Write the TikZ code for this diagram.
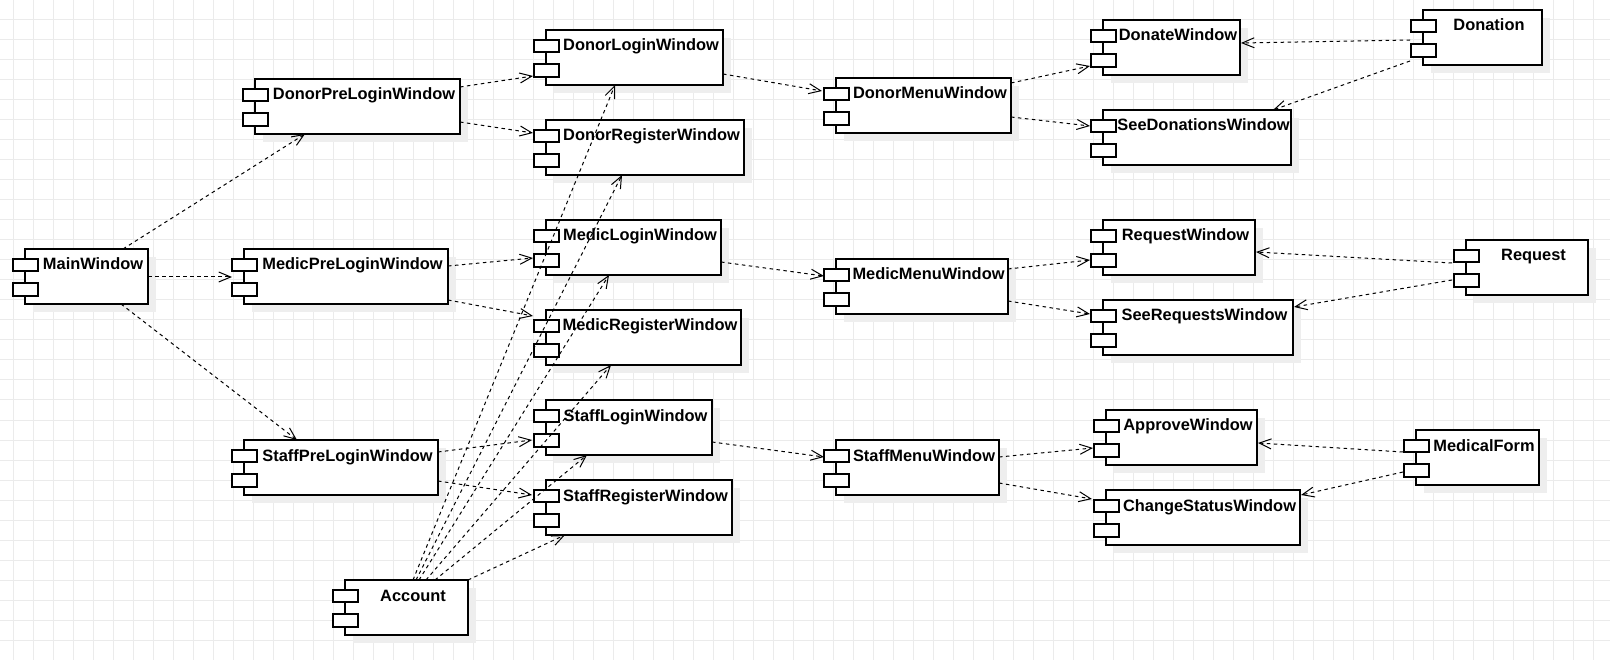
\documentclass[tikz,border=0pt]{standalone}
\usepackage{fontspec}
\setmainfont{Liberation Sans}
\usetikzlibrary{arrows.meta,calc}
\definecolor{gridc}{HTML}{EBEBEB}
\definecolor{shadowc}{HTML}{EEEEEE}
\tikzset{
  body/.style={draw=black, line width=1.2pt, fill=white, minimum height=55pt,
    inner sep=0pt, outer sep=0pt, anchor=north west},
  port/.style={draw=black, line width=1.2pt, fill=white},
  lbl/.style={font=\fontsize{16.4}{19}\selectfont\bfseries, inner sep=0pt, anchor=base},
  dep/.style={draw=black, line width=1pt, dash pattern=on 3.5pt off 3.5pt,
    -{Straight Barb[length=12pt,width=10pt]}},
}
% UML component: name, left, top, width, label
\newcommand\comp[5]{%
  \fill[shadowc] (#2+8,#3+8) rectangle ++(#4,55);
  \node[body, minimum width=#4pt] (#1) at (#2,#3) {};
  \draw[port] ($(#1.north west)+(-12,10)$) rectangle ++(25,12);
  \draw[port] ($(#1.north west)+(-12,34)$) rectangle ++(25,13);
  \node[lbl] (#1-t) at ($(#1.north west)!0.5!(#1.north east)+(6.5,21)$) {#5};
}
\begin{document}
\begin{tikzpicture}[x=1pt,y=-1pt]
\useasboundingbox (0,0) rectangle (1610,660);
\fill[white] (0,0) rectangle (1610,660);
% background grid
\foreach \i in {0,...,80} \draw[gridc, line width=1pt] (13.33+20*\i,0) -- (13.33+20*\i,660);
\foreach \j in {0,...,33} \draw[gridc, line width=1pt] (0,20*\j) -- (1610,20*\j);

% components
\comp{main}{25}{249}{123}{MainWindow}
\comp{donorpre}{255}{79}{205}{DonorPreLoginWindow}
\comp{medicpre}{244}{249}{204}{MedicPreLoginWindow}
\comp{staffpre}{244}{440}{194}{StaffPreLoginWindow}
\comp{account}{345}{580}{123}{Account}
\comp{donorlogin}{546}{30}{177}{DonorLoginWindow}
\comp{donorreg}{546}{120}{198}{DonorRegisterWindow}
\comp{mediclogin}{546}{220}{175}{MedicLoginWindow}
\comp{medicreg}{546}{310}{195}{MedicRegisterWindow}
\comp{stafflogin}{546}{400}{166}{StaffLoginWindow}
\comp{staffreg}{546}{480}{186}{StaffRegisterWindow}
\comp{donormenu}{836}{78}{175}{DonorMenuWindow}
\comp{medicmenu}{836}{259}{172}{MedicMenuWindow}
\comp{staffmenu}{836}{440}{163}{StaffMenuWindow}
\comp{donate}{1103}{20}{137}{DonateWindow}
\comp{seedon}{1103}{110}{188}{SeeDonationsWindow}
\comp{donation}{1423}{10}{119}{Donation}
\comp{reqwin}{1103}{220}{152}{RequestWindow}
\comp{seereq}{1103}{300}{190}{SeeRequestsWindow}
\comp{request}{1466}{240}{122}{Request}
\comp{approve}{1106}{410}{151}{ApproveWindow}
\comp{change}{1106}{490}{194}{ChangeStatusWindow}
\comp{medform}{1416}{430}{123}{MedicalForm}

% dependencies
\draw[dep] ($(main.north west)+(98,0)$) -- ($(donorpre.north west)+(50,55)$);
\draw[dep] ($(main.north west)+(123,28)$) -- ($(medicpre.north west)+(-12,28)$);
\draw[dep] ($(main.north west)+(96,55)$) -- ($(staffpre.north west)+(53,0)$);

\draw[dep] ($(donorpre.north west)+(205,8)$) -- ($(donorlogin.north west)+(-13,46)$);
\draw[dep] ($(donorpre.north west)+(205,43)$) -- ($(donorreg.north west)+(-13,13)$);
\draw[dep] ($(medicpre.north west)+(204,17)$) -- ($(mediclogin.north west)+(-13,38)$);
\draw[dep] ($(medicpre.north west)+(204,51)$) -- ($(medicreg.north west)+(-13,6)$);
\draw[dep] ($(staffpre.north west)+(194,12)$) -- ($(stafflogin.north west)+(-14,40)$);
\draw[dep] ($(staffpre.north west)+(194,41)$) -- ($(staffreg.north west)+(-14,15)$);

\draw[dep] ($(donorlogin.north west)+(177,44)$) -- ($(donormenu.north west)+(-14,13)$);
\draw[dep] ($(mediclogin.north west)+(175,42)$) -- ($(medicmenu.north west)+(-12,17)$);
\draw[dep] ($(stafflogin.north west)+(166,42)$) -- ($(staffmenu.north west)+(-12,17)$);

\draw[dep] ($(donormenu.north west)+(175,5)$) -- ($(donate.north west)+(-13,46)$);
\draw[dep] ($(donormenu.north west)+(175,39)$) -- ($(seedon.north west)+(-13,16)$);
\draw[dep] ($(medicmenu.north west)+(172,10)$) -- ($(reqwin.north west)+(-13,40)$);
\draw[dep] ($(medicmenu.north west)+(172,42)$) -- ($(seereq.north west)+(-13,14)$);
\draw[dep] ($(staffmenu.north west)+(163,17)$) -- ($(approve.north west)+(-13,38)$);
\draw[dep] ($(staffmenu.north west)+(163,43)$) -- ($(change.north west)+(-14,9)$);

\draw[dep] ($(donation.north west)+(-13,30)$) -- ($(donate.north west)+(138,23)$);
\draw[dep] ($(donation.north west)+(-13,51)$) -- ($(seedon.north west)+(170,0)$);
\draw[dep] ($(request.north west)+(-14,23)$) -- ($(reqwin.north west)+(153,32)$);
\draw[dep] ($(request.north west)+(-14,40)$) -- ($(seereq.north west)+(191,7)$);
\draw[dep] ($(medform.north west)+(-13,22)$) -- ($(approve.north west)+(152,33)$);
\draw[dep] ($(medform.north west)+(-13,42)$) -- ($(change.north west)+(195,5)$);

\draw[dep] ($(account.north west)+(68,0)$) -- ($(donorlogin.north west)+(69,55)$);
\draw[dep] ($(account.north west)+(71,0)$) -- ($(donorreg.north west)+(76,55)$);
\draw[dep] ($(account.north west)+(74,0)$) -- ($(mediclogin.north west)+(63,55)$);
\draw[dep] ($(account.north west)+(81,0)$) -- ($(medicreg.north west)+(65,55)$);
\draw[dep] ($(account.north west)+(90,0)$) -- ($(stafflogin.north west)+(41,55)$);
\draw[dep] ($(account.north west)+(123,0)$) -- ($(staffreg.north west)+(19,55)$);
\end{tikzpicture}
\end{document}
